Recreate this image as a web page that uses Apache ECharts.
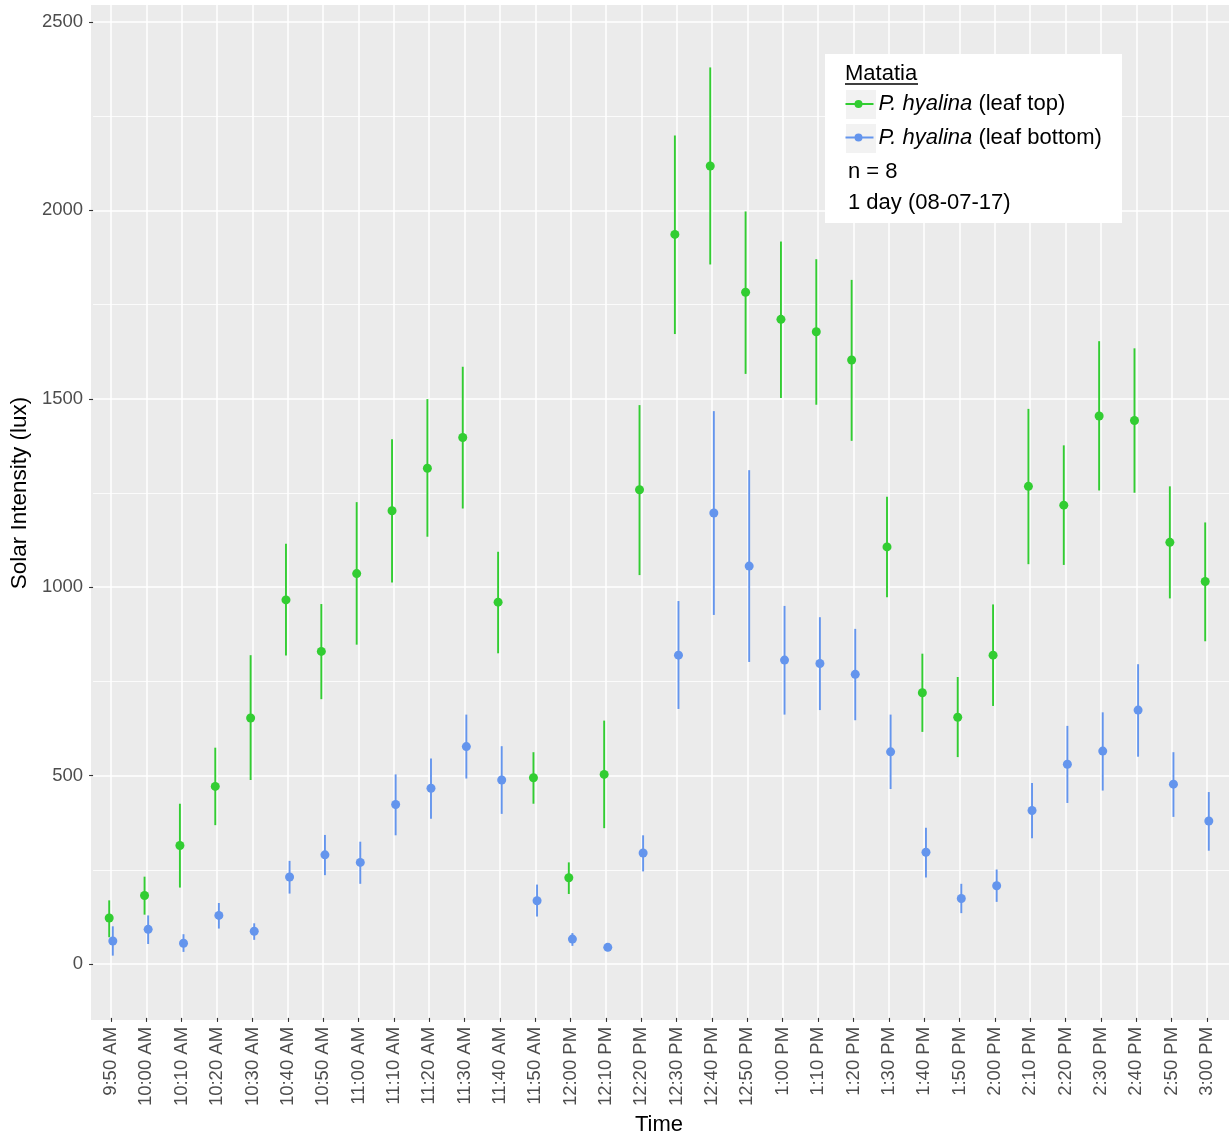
<!DOCTYPE html>
<html>
<head>
<meta charset="utf-8">
<script src="https://cdn.jsdelivr.net/npm/echarts@6/dist/echarts.min.js"></script>
<style>
  html, body { margin: 0; padding: 0; background: #fff; }
  #chart { width: 1231px; height: 1141px; }
</style>
</head>
<body>
<div id="chart"></div>
<script>
const times = ['9:50 AM','10:00 AM','10:10 AM','10:20 AM','10:30 AM','10:40 AM','10:50 AM','11:00 AM',
  '11:10 AM','11:20 AM','11:30 AM','11:40 AM','11:50 AM','12:00 PM','12:10 PM','12:20 PM',
  '12:30 PM','12:40 PM','12:50 PM','1:00 PM','1:10 PM','1:20 PM','1:30 PM','1:40 PM',
  '1:50 PM','2:00 PM','2:10 PM','2:20 PM','2:30 PM','2:40 PM','2:50 PM','3:00 PM'];

// P. hyalina (leaf top)
const topMean = [117,177,310,467,649,963,826,1033,1200,1313,1395,957,490,224,499,1256,
  1935,2117,1781,1709,1676,1601,1104,716,651,816,1265,1215,1452,1440,1116,1012];
const topLow  = [66,126,198,364,484,815,699,844,1009,1131,1206,821,421,181,356,1029,
  1670,1855,1564,1500,1482,1386,970,612,545,681,1058,1056,1254,1248,967,853];
const topHigh = [164,227,421,570,816,1112,952,1223,1390,1497,1583,1091,558,265,642,1481,
  2198,2379,1996,1916,1869,1814,1237,820,758,951,1471,1374,1651,1632,1265,1169];

// P. hyalina (leaf bottom)
const bottomMean = [56,87,50,124,82,226,285,265,419,462,573,484,163,61,39,290,
  816,1194,1053,803,794,765,559,292,169,203,403,526,561,670,473,375];
const bottomLow  = [17,48,27,89,59,182,231,208,337,381,488,394,121,43,29,241,
  673,923,798,658,670,643,460,225,130,160,329,423,456,546,386,296];
const bottomHigh = [95,124,74,157,103,269,338,320,499,541,658,574,206,77,50,337,
  960,1465,1308,947,917,886,658,357,208,246,476,628,664,792,558,452];

const yTicks = [0, 500, 1000, 1500, 2000, 2500];

const FONT = '"Liberation Sans", Arial, Helvetica, sans-serif';
const GREEN = '#32CD32';
const BLUE = '#6495ED';

const chart = echarts.init(document.getElementById('chart'), null, { renderer: 'canvas' });

function errorSeries(name, low, high, color, dx) {
  return {
    name: name,
    type: 'custom',
    xAxisIndex: 1, yAxisIndex: 1,
    z: 3,
    silent: true,
    data: low.map((l, i) => [i, l, high[i]]),
    encode: { x: 0, y: [1, 2] },
    renderItem: function (params, api) {
      const a = api.coord([api.value(0), api.value(1)]);
      const b = api.coord([api.value(0), api.value(2)]);
      return {
        type: 'line',
        shape: { x1: a[0] + dx, y1: a[1], x2: b[0] + dx, y2: b[1] },
        style: { stroke: color, lineWidth: 1.9 }
      };
    }
  };
}

const iconPath = 'path://M0,3.05L28,3.05L28,4.95L0,4.95Z M9,4A4,4 0 1 1 17,4A4,4 0 1 1 9,4Z';

const option = {
  animation: false,
  backgroundColor: '#ffffff',
  textStyle: { fontFamily: FONT },
  grid: [
    { left: 91, right: 2, top: 5, bottom: 121, show: true, backgroundColor: '#EBEBEB', borderWidth: 0 },
    { left: 111, right: 24, top: 5, bottom: 121, show: false },
    { left: 91, right: 2, top: 22, bottom: 177, show: false }
  ],
  xAxis: [
    { gridIndex: 0, type: 'value', show: false, min: 0, max: 1 },
    {
      gridIndex: 1, type: 'category', data: times, boundaryGap: false, position: 'bottom',
      axisLine: { show: false, onZero: false },
      axisTick: { show: true, length: 4, lineStyle: { color: '#333333', width: 1.1 }, alignWithLabel: true },
      axisLabel: { rotate: 90, margin: 9, color: '#4D4D4D', fontSize: 18.5, fontFamily: FONT, interval: 0 },
      splitLine: { show: true, lineStyle: { color: '#FFFFFF', width: 1.5 } },
      name: 'Time', nameLocation: 'middle', nameGap: 95,
      nameTextStyle: { color: '#000000', fontSize: 22, fontFamily: FONT }
    },
    { gridIndex: 2, type: 'value', show: false, min: 0, max: 1 }
  ],
  yAxis: [
    { gridIndex: 0, type: 'value', show: false, min: 0, max: 1 },
    { gridIndex: 1, type: 'value', show: false, min: -148.6, max: 2545 },
    {
      gridIndex: 2, type: 'value', min: yTicks[0], max: yTicks[yTicks.length - 1], interval: 500,
      axisLine: { show: false, onZero: false },
      axisTick: { show: true, length: 4, lineStyle: { color: '#333333', width: 1.1 } },
      axisLabel: { margin: 10, color: '#4D4D4D', fontSize: 18.5, fontFamily: FONT,
        formatter: function (v) { return String(v); } },
      splitLine: { show: true, lineStyle: { color: '#FFFFFF', width: 1.5 } },
      minorTick: { show: false, splitNumber: 2 },
      minorSplitLine: { show: true, lineStyle: { color: '#FFFFFF', width: 0.8 } },
      name: 'Solar Intensity (lux)', nameLocation: 'middle', nameGap: 55, nameRotate: 90,
      nameTextStyle: { color: '#000000', fontSize: 22.5, fontFamily: FONT }
    }
  ],
  legend: {
    show: true,
    orient: 'vertical',
    left: 845.5, top: 92,
    padding: 0,
    itemWidth: 28, itemHeight: 8, itemGap: 9.5,
    icon: iconPath,
    selectedMode: false,
    z: 60,
    data: ['top', 'bottom'],
    formatter: function (name) {
      return name === 'top' ? '{i|P. hyalina} (leaf top)' : '{i|P. hyalina} (leaf bottom)';
    },
    textStyle: {
      color: '#000000', fontSize: 22, fontFamily: FONT, lineHeight: 24,
      rich: { i: { fontStyle: 'italic', fontSize: 22, fontFamily: FONT, color: '#000000', lineHeight: 24 } }
    }
  },
  graphic: [
    { type: 'rect', z: 50, silent: true, shape: { x: 825, y: 54, width: 297, height: 169 }, style: { fill: '#FFFFFF' } },
    { type: 'rect', z: 51, silent: true, shape: { x: 846, y: 90, width: 30, height: 29 }, style: { fill: '#F2F2F2' } },
    { type: 'rect', z: 51, silent: true, shape: { x: 846, y: 124, width: 30, height: 29 }, style: { fill: '#F2F2F2' } },
    { type: 'text', z: 52, silent: true, x: 845, y: 74,
      style: { text: 'Matatia', font: '22px ' + FONT, fill: '#000000', verticalAlign: 'middle', align: 'left' } },
    { type: 'line', z: 52, silent: true, shape: { x1: 845, y1: 84, x2: 918, y2: 84 }, style: { stroke: '#000000', lineWidth: 1.3 } },
    { type: 'text', z: 52, silent: true, x: 848, y: 172,
      style: { text: 'n = 8', font: '22px ' + FONT, fill: '#000000', verticalAlign: 'middle', align: 'left' } },
    { type: 'text', z: 52, silent: true, x: 848, y: 203,
      style: { text: '1 day (08-07-17)', font: '22px ' + FONT, fill: '#000000', verticalAlign: 'middle', align: 'left' } }
  ],
  series: [
    errorSeries('top-err', topLow, topHigh, GREEN, -1.8),
    {
      name: 'top', type: 'scatter', xAxisIndex: 1, yAxisIndex: 1, z: 4,
      symbol: 'circle', symbolSize: 9, symbolOffset: [-1.8, 0],
      itemStyle: { color: GREEN, opacity: 1 },
      data: topMean.map((v, i) => [i, v])
    },
    errorSeries('bottom-err', bottomLow, bottomHigh, BLUE, 1.8),
    {
      name: 'bottom', type: 'scatter', xAxisIndex: 1, yAxisIndex: 1, z: 4,
      symbol: 'circle', symbolSize: 9, symbolOffset: [1.8, 0],
      itemStyle: { color: BLUE, opacity: 1 },
      data: bottomMean.map((v, i) => [i, v])
    }
  ]
};

chart.setOption(option);
</script>
</body>
</html>
